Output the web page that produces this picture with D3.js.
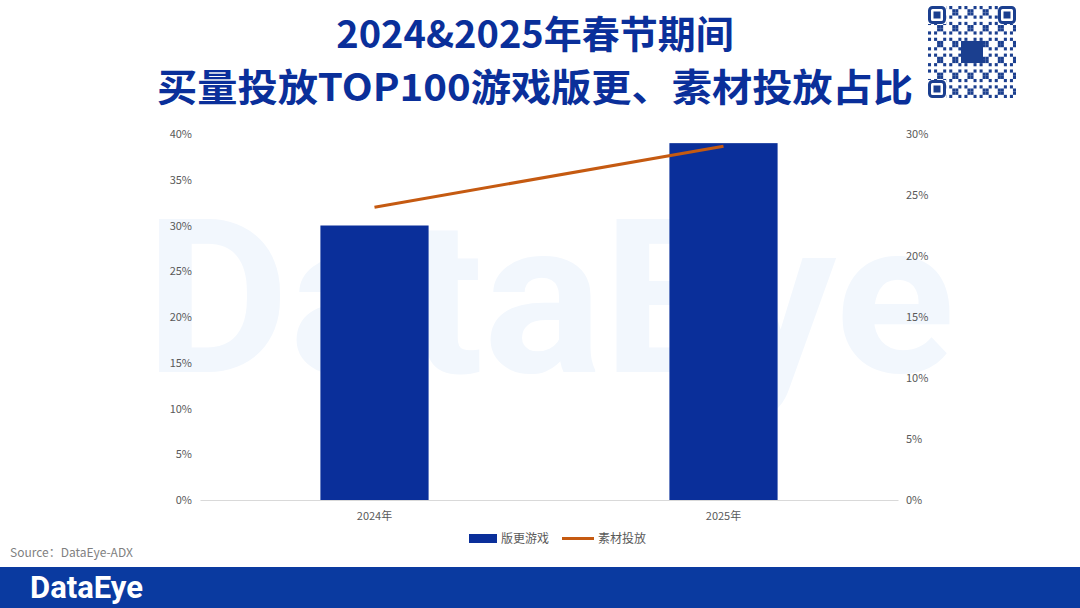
<!DOCTYPE html>
<html><head><meta charset="utf-8">
<script src="https://cdn.jsdelivr.net/npm/d3@7"></script>
<style>body{margin:0;background:#fff}svg{display:block}</style>
</head><body>
<script>
var years = ['2024年', '2025年'];
var versionShare = [0.30, 0.39];   // 版更游戏, left axis
var materialShare = [0.24, 0.29];  // 素材投放, right axis
var leftTicks = [0, .05, .10, .15, .20, .25, .30, .35, .40];
var rightTicks = [0, .05, .10, .15, .20, .25, .30];

var W = 1080, H = 608;
var blue = '#0a2f9a', orange = '#c55a11';
var font = '"Noto Sans CJK SC", "Noto Sans", sans-serif';

var svg = d3.select('body').append('svg').attr('width', W).attr('height', H)
  .style('font-family', font);

// watermark
svg.append('text').attr('x', 550).attr('y', 372).attr('text-anchor', 'middle')
  .attr('font-size', 215).attr('font-weight', 'bold').attr('font-family', 'Roboto, sans-serif')
  .attr('textLength', 810).attr('lengthAdjust', 'spacingAndGlyphs')
  .attr('fill', '#f2f7fd').text('DataEye');

// title
svg.append('text').attr('x', 535).attr('y', 48).attr('text-anchor', 'middle')
  .attr('font-size', 38).attr('font-weight', 'bold').attr('fill', blue).text('2024&2025年春节期间');
svg.append('text').attr('x', 535).attr('y', 101).attr('text-anchor', 'middle')
  .attr('font-size', 38).attr('font-weight', 'bold').attr('fill', blue)
  .attr('textLength', 756).attr('lengthAdjust', 'spacingAndGlyphs')
  .text('买量投放TOP100游戏版更、素材投放占比');

// QR placeholder
var qr = svg.append('g').attr('transform', 'translate(928,6)');
qr.append('rect').attr('width', 88).attr('height', 92).attr('fill', '#fff');
var n = 29, c = 88 / n;
for (var i = 0; i < n; i++) for (var j = 0; j < n; j++) {
  if (((i * 7 + j * 13 + i * j * 3) % 5) < 2)
    qr.append('rect').attr('x', j * c).attr('y', i * c * 92 / 88).attr('width', c).attr('height', c * 92 / 88).attr('fill', '#1b3f8f');
}
[[0, 0], [88 - 18, 0], [0, 92 - 18]].forEach(function (p) {
  qr.append('rect').attr('x', p[0]).attr('y', p[1]).attr('width', 18).attr('height', 18).attr('fill', '#fff');
  qr.append('rect').attr('x', p[0] + 1.5).attr('y', p[1] + 1.5).attr('width', 15).attr('height', 15).attr('rx', 3).attr('fill', 'none').attr('stroke', '#1b3f8f').attr('stroke-width', 3);
  qr.append('rect').attr('x', p[0] + 5.5).attr('y', p[1] + 5.5).attr('width', 7).attr('height', 7).attr('fill', '#1b3f8f');
});
qr.append('rect').attr('x', 33).attr('y', 35).attr('width', 22).attr('height', 22).attr('fill', '#1b3f8f');

// scales
var x = d3.scaleBand().domain(years).range([200, 898]).paddingInner(0.69).paddingOuter(0.345);
var yL = d3.scaleLinear().domain([0, 0.4]).range([500, 134]);
var yR = d3.scaleLinear().domain([0, 0.3]).range([500, 134]);
var pct = d3.format('.0%');

var axL = svg.append('g').attr('transform', 'translate(200,0)')
  .call(d3.axisLeft(yL).tickValues(leftTicks).tickFormat(pct).tickSize(0).tickPadding(8));
var axR = svg.append('g').attr('transform', 'translate(898,0)')
  .call(d3.axisRight(yR).tickValues(rightTicks).tickFormat(pct).tickSize(0).tickPadding(8));
[axL, axR].forEach(function (a) {
  a.select('.domain').remove();
  a.selectAll('text').attr('fill', '#595959').attr('font-size', 11).attr('font-family', font);
});

svg.selectAll('.bar').data(versionShare).enter().append('rect')
  .attr('x', function (d, i) { return x(years[i]); })
  .attr('width', x.bandwidth())
  .attr('y', function (d) { return yL(d); })
  .attr('height', function (d) { return yL(0) - yL(d); })
  .attr('fill', blue);

var ax = svg.append('g').attr('transform', 'translate(0,500)')
  .call(d3.axisBottom(x).tickSize(0).tickPadding(12));
ax.select('.domain').attr('stroke', '#d9d9d9');
ax.selectAll('text').attr('fill', '#595959').attr('font-size', 11).attr('font-family', font);

var line = d3.line().x(function (d, i) { return x(years[i]) + x.bandwidth() / 2; }).y(function (d) { return yR(d); });
svg.append('path').datum(materialShare).attr('d', line).attr('fill', 'none')
  .attr('stroke', orange).attr('stroke-width', 3);

// legend
svg.append('rect').attr('x', 469).attr('y', 534).attr('width', 28).attr('height', 9).attr('fill', blue);
svg.append('text').attr('x', 501).attr('y', 543).attr('font-size', 12).attr('fill', '#595959').text('版更游戏');
svg.append('line').attr('x1', 562).attr('x2', 594).attr('y1', 538.5).attr('y2', 538.5).attr('stroke', orange).attr('stroke-width', 3);
svg.append('text').attr('x', 598).attr('y', 543).attr('font-size', 12).attr('fill', '#595959').text('素材投放');

svg.append('text').attr('x', 10).attr('y', 557).attr('font-size', 12).attr('fill', '#7f7f7f').text('Source：DataEye-ADX');

// footer
svg.append('rect').attr('x', 0).attr('y', 567).attr('width', W).attr('height', 41).attr('fill', '#0a3aa0');
svg.append('text').attr('x', 30).attr('y', 598).attr('font-size', 31).attr('font-weight', 'bold')
  .attr('font-family', 'Roboto, sans-serif').attr('fill', '#fff').text('DataEye');
</script>
</body></html>
